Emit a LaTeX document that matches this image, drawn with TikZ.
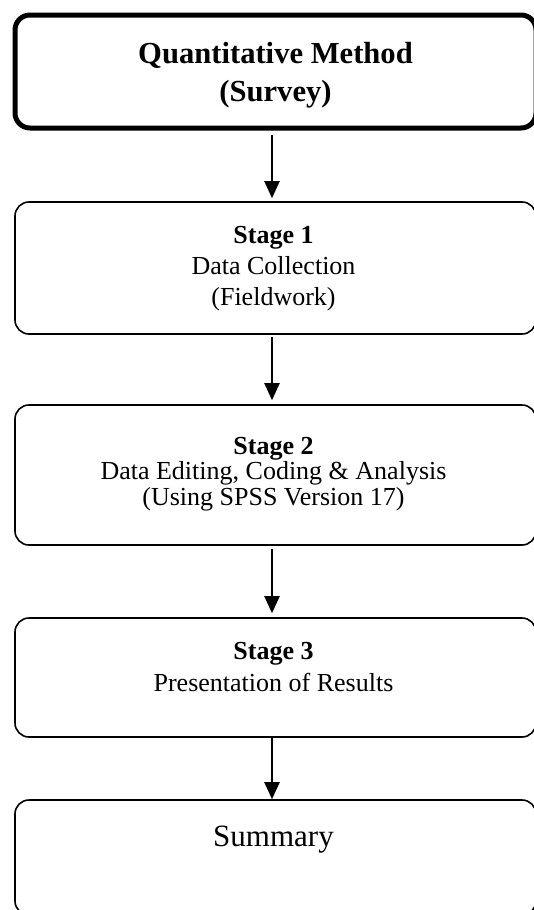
\documentclass[tikz,border=0pt]{standalone}
\usepackage{fontspec}
\setmainfont{Liberation Serif}
\usetikzlibrary{arrows.meta}
\tikzset{
  box/.style={draw=black, rounded corners=14pt, inner sep=0pt, line width=1.6pt},
  topbox/.style={box, line width=5pt, rounded corners=15pt},
  txt/.style={align=center, inner sep=0pt},
  arr/.style={line width=2.2pt, -{Triangle[width=15pt,length=17pt]}},
}
\begin{document}
\begin{tikzpicture}[x=1pt,y=-1pt]
\useasboundingbox (0,0) rectangle (533,910);
% boxes
\node[topbox, minimum width=521pt, minimum height=113pt] (b0) at (275.5,71.5) {};
\node[box, minimum width=521pt, minimum height=132pt] (b1) at (275.5,268) {};
\node[box, minimum width=521pt, minimum height=140pt] (b2) at (275.5,475) {};
\node[box, minimum width=521pt, minimum height=119pt] (b3) at (275.5,677.5) {};
\node[box, minimum width=521pt, minimum height=115pt] (b4) at (275.5,857.5) {};
% texts
\node[txt, font=\fontsize{30.6}{37.5}\selectfont\bfseries] (t0) at (275.5,75) {Quantitative Method\\(Survey)};
\node[txt, font=\fontsize{26}{31}\selectfont] (t1) at (273.5,269) {\textbf{Stage 1}\\Data Collection\\(Fieldwork)};
\node[txt, font=\fontsize{26}{25.5}\selectfont] (t2) at (273.5,474) {\textbf{Stage 2}\\Data Editing, Coding \& Analysis\\(Using SPSS Version 17)};
\node[txt, font=\fontsize{26}{32}\selectfont] (t3) at (273.5,667) {\textbf{Stage 3}\\Presentation of Results};
\node[txt, font=\fontsize{31}{36}\selectfont] (t4) at (273.5,840) {Summary};
% arrows
\draw[arr, shorten <=4pt, shorten >=3pt] ([xshift=-3.5pt]b0.south) -- ([xshift=-3.5pt]b1.north);
\draw[arr, shorten <=2pt, shorten >=4pt] ([xshift=-3.5pt]b1.south) -- ([xshift=-3.5pt]b2.north);
\draw[arr, shorten <=3pt, shorten >=4pt] ([xshift=-3.5pt]b2.south) -- ([xshift=-3.5pt]b3.north);
\draw[arr] ([xshift=-3.5pt]b3.south) -- ([xshift=-3.5pt]b4.north);
\end{tikzpicture}
\end{document}
